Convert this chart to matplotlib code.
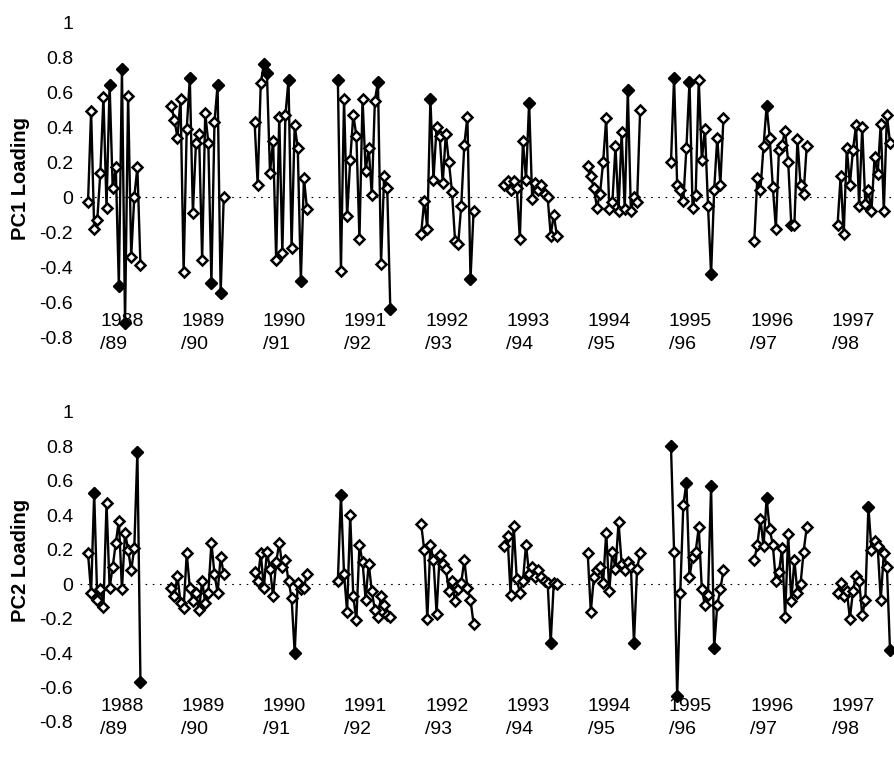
import numpy as np
import matplotlib
matplotlib.use("Agg")
import matplotlib.pyplot as plt

plt.rcParams['font.family'] = ['Liberation Sans', 'DejaVu Sans']

# seasons on the x axis
seasons = ["1988\n/89", "1989\n/90", "1990\n/91", "1991\n/92", "1992\n/93",
           "1993\n/94", "1994\n/95", "1995\n/96", "1996\n/97", "1997\n/98"]

# PC1 loadings, one list per season (18 points each)
pc1 = [
    [-0.03, 0.49, -0.18, -0.13, 0.14, 0.57, -0.06, 0.64, 0.05, 0.17, -0.51, 0.73, -0.72, 0.58, -0.34, 0.0, 0.17, -0.39],
    [0.52, 0.44, 0.34, 0.56, -0.43, 0.39, 0.68, -0.09, 0.31, 0.36, -0.36, 0.48, 0.31, -0.49, 0.43, 0.64, -0.55, 0.0],
    [0.43, 0.07, 0.65, 0.76, 0.71, 0.14, 0.32, -0.36, 0.46, -0.32, 0.47, 0.67, -0.29, 0.41, 0.28, -0.48, 0.11, -0.07],
    [0.67, -0.42, 0.56, -0.11, 0.21, 0.47, 0.35, -0.24, 0.56, 0.15, 0.28, 0.01, 0.55, 0.66, -0.38, 0.12, 0.05, -0.64],
    [-0.21, -0.02, -0.18, 0.56, 0.10, 0.40, 0.35, 0.08, 0.36, 0.20, 0.03, -0.25, -0.27, -0.05, 0.30, 0.46, -0.47, -0.08],
    [0.07, 0.09, 0.04, 0.09, 0.05, -0.24, 0.32, 0.10, 0.54, -0.01, 0.08, 0.04, 0.07, 0.02, 0.00, -0.22, -0.10, -0.22],
    [0.18, 0.12, 0.05, -0.06, 0.02, 0.20, 0.45, -0.07, -0.03, 0.29, -0.08, 0.37, -0.07, 0.61, -0.08, 0.0, -0.03, 0.50],
    [0.20, 0.68, 0.07, 0.04, -0.02, 0.28, 0.66, -0.06, 0.01, 0.67, 0.21, 0.39, -0.05, -0.44, 0.04, 0.34, 0.07, 0.45],
    [-0.25, 0.11, 0.04, 0.29, 0.52, 0.34, 0.06, -0.18, 0.27, 0.30, 0.38, 0.20, -0.16, -0.16, 0.33, 0.07, 0.02, 0.29],
    [-0.16, 0.12, -0.21, 0.28, 0.07, 0.27, 0.41, -0.05, 0.40, -0.04, 0.04, -0.08, 0.23, 0.13, 0.42, -0.08, 0.47, 0.31],
]
# indices of the black (highlighted) markers in each season
pc1_filled = [[7, 10, 11, 12], [6, 13, 15, 16], [3, 4, 11, 15], [0, 13, 17], [3, 16],
              [8], [13], [1, 6, 13], [4], []]

# PC2 loadings
pc2 = [
    [0.18, -0.05, 0.53, -0.09, -0.03, -0.13, 0.47, -0.02, 0.10, 0.24, 0.37, -0.03, 0.30, 0.20, 0.08, 0.21, 0.77, -0.57],
    [-0.02, -0.07, 0.05, -0.11, -0.14, 0.18, -0.02, -0.10, -0.05, -0.15, 0.02, -0.11, -0.05, 0.24, 0.06, -0.05, 0.16, 0.06],
    [0.07, 0.02, 0.18, -0.02, 0.19, 0.09, -0.07, 0.13, 0.24, 0.10, 0.14, 0.02, -0.08, -0.40, 0.01, -0.03, -0.02, 0.06],
    [0.02, 0.52, 0.06, -0.16, 0.40, -0.07, -0.21, 0.23, 0.13, -0.09, 0.12, -0.04, -0.15, -0.19, -0.07, -0.12, -0.18, -0.19],
    [0.35, 0.20, -0.20, 0.23, 0.14, -0.17, 0.17, 0.12, 0.09, -0.04, 0.02, -0.10, -0.03, 0.01, 0.14, -0.02, -0.09, -0.23],
    [0.22, 0.28, -0.06, 0.34, 0.03, -0.05, 0.02, 0.23, 0.06, 0.10, 0.04, 0.08, 0.04, 0.02, 0.01, -0.34, 0.01, 0.0],
    [0.18, -0.16, 0.04, 0.08, 0.10, 0.01, 0.30, -0.04, 0.19, 0.09, 0.36, 0.12, 0.08, 0.13, 0.10, -0.34, 0.09, 0.18],
    [0.80, 0.19, -0.65, -0.05, 0.46, 0.59, 0.04, 0.16, 0.19, 0.33, -0.03, -0.12, -0.06, 0.57, -0.37, -0.12, -0.03, 0.08],
    [0.14, 0.23, 0.38, 0.22, 0.50, 0.32, 0.23, 0.02, 0.07, 0.21, -0.19, 0.29, -0.10, 0.14, -0.05, 0.00, 0.19, 0.33],
    [-0.05, 0.01, -0.07, -0.04, -0.20, -0.04, 0.05, 0.02, -0.18, -0.09, 0.45, 0.20, 0.25, 0.22, -0.09, 0.18, 0.10, -0.38],
]
pc2_filled = [[2, 16, 17], [], [13], [1], [], [15], [15], [0, 2, 5, 13, 14], [4], [10, 17]]

yticks = [-0.8, -0.6, -0.4, -0.2, 0, 0.2, 0.4, 0.6, 0.8, 1]

PERIOD = 27  # x units from one season to the next (gap included)


def tick_fmt(v):
    if v == 0:
        return "0"
    if v == 1:
        return "1"
    return f"{v:.1f}"


def draw_panel(ax, values, filled, ylabel_y, label):
    ax.axhline(0, color="black", lw=0.8, ls=(0, (1.5, 5)), zorder=0)
    for i, vals in enumerate(values):
        x = i * PERIOD + np.arange(len(vals))
        ax.plot(x, vals, color="black", lw=1.7, marker="D", ms=5.6,
                mfc="white", mec="black", mew=1.8, clip_on=False, zorder=2)
        if filled[i]:
            idx = np.array(filled[i])
            ax.plot(x[idx], np.array(vals)[idx], ls="none", marker="D", ms=6.6,
                    mfc="black", mec="black", clip_on=False, zorder=3)
        ax.text(3.9 + i * 26.35, -0.775, seasons[i], ha="left", va="center",
                fontsize=14, linespacing=1.45, zorder=4)

    ax.set_xlim(-2.6, 261.3)
    ax.set_ylim(-0.8, 1.0)
    ax.set_yticks(yticks)
    ax.set_yticklabels([tick_fmt(v) for v in yticks], fontsize=14)
    ax.set_xticks([])
    ax.tick_params(axis="y", length=0, pad=5)
    for s in ax.spines.values():
        s.set_visible(False)
    fig.text(0.023, ylabel_y, label, rotation=90, ha="center", va="center",
             fontsize=14.5, fontweight="bold")


fig = plt.figure(figsize=(8.94, 7.61), dpi=100)
ax1 = fig.add_axes([80 / 894, 1 - 337 / 761, 814 / 894, 315 / 761])
ax2 = fig.add_axes([80 / 894, 1 - 722 / 761, 814 / 894, 310 / 761])

draw_panel(ax1, pc1, pc1_filled, 1 - 178 / 761, "PC1 Loading")
draw_panel(ax2, pc2, pc2_filled, 1 - 560 / 761, "PC2 Loading")

fig.savefig("out.png", dpi=100)
